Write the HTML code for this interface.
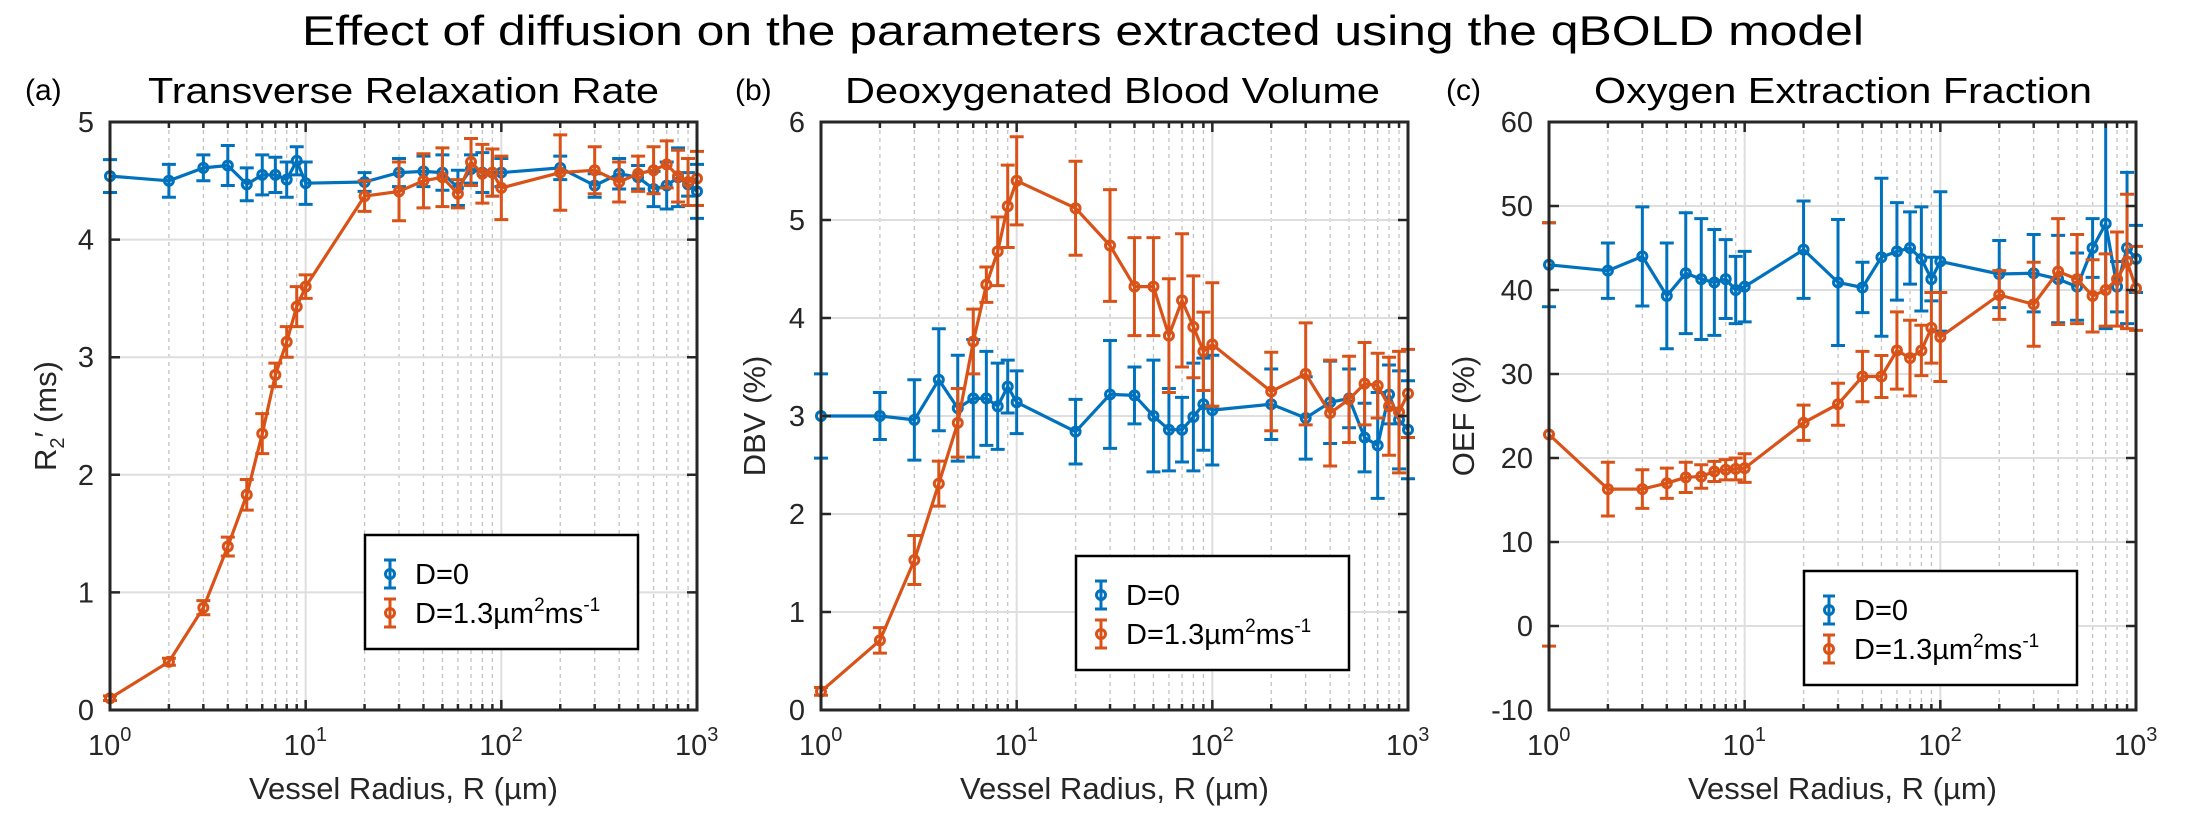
<!DOCTYPE html>
<html><head><meta charset="utf-8"><style>
html,body{margin:0;padding:0;background:#fff;}
svg{display:block;font-family:"Liberation Sans",Arial,sans-serif;}
</style></head><body>
<svg id="fig" width="2185" height="827" viewBox="0 0 2185 827" xmlns="http://www.w3.org/2000/svg">
<text x="1083" y="45" font-size="42" text-anchor="middle" textLength="1562" lengthAdjust="spacingAndGlyphs">Effect of diffusion on the parameters extracted using the qBOLD model</text>
</svg>
<script>
const radii = [1,2,3,4,5,6,7,8,9,10,20,30,40,50,60,70,80,90,100,200,300,400,500,600,700,800,900,1000];
// Panel (a) R2'
const r2Blue = [4.54,4.50,4.61,4.63,4.47,4.55,4.55,4.51,4.67,4.48,4.49,4.57,4.58,4.57,4.44,4.60,4.57,4.57,4.57,4.61,4.46,4.56,4.53,4.43,4.46,4.53,4.47,4.41];
const r2BlueErr = [0.14,0.14,0.11,0.17,0.14,0.17,0.15,0.15,0.12,0.18,0.08,0.12,0.13,0.15,0.15,0.12,0.17,0.2,0.12,0.1,0.1,0.13,0.1,0.15,0.2,0.25,0.1,0.23];
const r2Orange = [0.10,0.41,0.87,1.39,1.83,2.35,2.85,3.13,3.43,3.60,4.37,4.41,4.50,4.53,4.39,4.66,4.56,4.57,4.44,4.57,4.59,4.49,4.56,4.59,4.64,4.54,4.49,4.52];
const r2OrangeErr = [0.02,0.03,0.06,0.08,0.13,0.17,0.1,0.13,0.17,0.1,0.13,0.25,0.23,0.25,0.12,0.2,0.25,0.2,0.27,0.32,0.2,0.17,0.15,0.2,0.2,0.22,0.2,0.23];
// Panel (b) DBV
const dbvBlue = [3.0,3.0,2.96,3.37,3.08,3.18,3.18,3.1,3.3,3.14,2.84,3.22,3.21,3.0,2.86,2.86,2.99,3.12,3.06,3.12,2.98,3.14,3.18,2.78,2.7,3.22,2.96,2.86];
const dbvBlueErr = [0.43,0.24,0.41,0.52,0.54,0.6,0.48,0.44,0.27,0.32,0.33,0.55,0.29,0.57,0.42,0.33,0.55,0.47,0.56,0.36,0.42,0.42,0.3,0.35,0.54,0.3,0.5,0.5];
const dbvOrange = [0.19,0.71,1.53,2.31,2.93,3.76,4.34,4.68,5.14,5.40,5.12,4.74,4.32,4.32,3.82,4.18,3.91,3.66,3.73,3.25,3.43,3.03,3.17,3.33,3.31,3.10,3.04,3.23];
const dbvOrangeErr = [0.04,0.13,0.25,0.23,0.35,0.33,0.18,0.35,0.42,0.45,0.48,0.57,0.5,0.5,0.58,0.68,0.52,0.4,0.63,0.4,0.52,0.54,0.44,0.42,0.33,0.5,0.62,0.45];
// Panel (c) OEF
const oefBlue = [43.0,42.3,44.0,39.3,42.0,41.3,40.9,41.3,40.0,40.4,44.8,40.9,40.3,43.9,44.6,45.0,43.7,41.3,43.4,41.9,42.0,41.3,40.4,45.0,47.9,40.4,45.0,43.7];
const oefBlueErr = [5,3.3,5.9,6.3,7.2,7.2,6.3,4.7,4,4.2,5.8,7.5,3,9.4,5.8,4.3,6.2,2.6,8.3,4,4.6,5.2,4,3.5,12.5,3,9,4];
const oefOrange = [22.8,16.3,16.3,17.0,17.7,17.8,18.4,18.6,18.7,18.8,24.2,26.4,29.7,29.7,32.8,31.9,32.8,35.5,34.4,39.4,38.3,42.2,41.3,39.3,40.0,41.3,43.4,40.2];
const oefOrangeErr = [25.2,3.2,2.3,1.8,1.8,1.4,1.2,1.2,1.3,1.7,2.1,2.5,3.0,2.5,4.6,4.5,3.0,4.2,5.3,2.9,5.0,6.3,5.3,4.3,4.3,5.6,8.0,5];
const aTicks = [0,1,2,3,4,5];
const bTicks = [0,1,2,3,4,5,6];
const cTicks = [-10,0,10,20,30,40,50,60];
const xDecades = [0,1,2,3];

const NS = "http://www.w3.org/2000/svg";
const svg = document.getElementById('fig');
const BLUE = "#0072BD", ORANGE = "#D95319";
function el(tag, attrs, parent, text){
  const e = document.createElementNS(NS, tag);
  for (const k in attrs) e.setAttribute(k, attrs[k]);
  if (text !== undefined) e.textContent = text;
  (parent||svg).appendChild(e);
  return e;
}

function panel(cfg){
  const L = cfg.left, R = cfg.left + 587, T = 122, B = 710;
  const g = el('g', {});
  
  
  const xs = v => L + (Math.log10(v) / 3) * (R - L);
  const ys = v => B - (v - cfg.ymin) / (cfg.ymax - cfg.ymin) * (B - T);
  // minor grid
  for (let d = 0; d < 3; d++) for (let m = 2; m <= 9; m++) {
    const x = xs(m * Math.pow(10, d));
    const ln = el('line', {x1:x, x2:x, y1:T, y2:B, stroke:'#c4c4c4', 'stroke-width':1.3, 'stroke-dasharray':'4,4'}, g);
    
    
  }
  // major grid
  cfg.ticks.forEach(t => {
    const y = ys(t);
    const ln = el('line', {x1:L, x2:R, y1:y, y2:y, stroke:'#dedede', 'stroke-width':2}, g);
    
    
  });
  xDecades.forEach(d => {
    const x = xs(Math.pow(10, d));
    const ln = el('line', {x1:x, x2:x, y1:T, y2:B, stroke:'#dedede', 'stroke-width':2}, g);
    
    
  });
  // series
  function series(vals, errs, color, name){
    const sg = el('g', {}, g);
    
    
    const pts = radii.map((r,i) => xs(r).toFixed(1) + ',' + ys(vals[i]).toFixed(1)).join(' ');
    const pl = el('polyline', {points:pts, fill:'none', stroke:color, 'stroke-width':3.2, 'stroke-linejoin':'round'}, sg);
    
    
    radii.forEach((r,i) => {
      const x = xs(r), y1 = Math.max(T, ys(vals[i] + errs[i])), y2 = Math.min(B, ys(vals[i] - errs[i]));
      const eb = el('path', {d:`M${x},${y1}V${y2}M${x-7},${y1}H${x+7}M${x-7},${y2}H${x+7}`, stroke:color, 'stroke-width':3, fill:'none'}, sg);
      
      
      const c = el('circle', {cx:x, cy:ys(vals[i]), r:4.5, fill:'none', stroke:color, 'stroke-width':3}, sg);
      
      
    });
  }
  series(cfg.blue, cfg.blueErr, BLUE, 'd0');
  series(cfg.orange, cfg.orangeErr, ORANGE, 'd13');
  // axes box & ticks
  const box = el('rect', {x:L, y:T, width:R-L, height:B-T, fill:'none', stroke:'#262626', 'stroke-width':3}, g);
  
  
  let tp = '';
  cfg.ticks.forEach(t => { const y = ys(t); tp += `M${L},${y}h10M${R},${y}h-10`; });
  xDecades.forEach(d => { const x = xs(Math.pow(10,d)); tp += `M${x},${B}v-10M${x},${T}v10`; });
  for (let d = 0; d < 3; d++) for (let m = 2; m <= 9; m++) { const x = xs(m*Math.pow(10,d)); tp += `M${x},${B}v-6M${x},${T}v6`; }
  const tk = el('path', {d:tp, stroke:'#262626', 'stroke-width':2.5, fill:'none'}, g);
  
  
  // tick labels
  cfg.ticks.forEach(t => {
    const tl = el('text', {x:L-16, y:ys(t)+10, 'font-size':29, 'text-anchor':'end', fill:'#262626'}, g, String(t));
    
    
  });
  xDecades.forEach(d => {
    const x = xs(Math.pow(10,d));
    const tl = el('text', {x:x-22, y:755, 'font-size':29, fill:'#262626'}, g);
    
    
    el('tspan', {}, tl, '10');
    el('tspan', {'font-size':20, dy:-14}, tl, String(d));
  });
  // axis titles
  const xt = el('text', {x:(L+R)/2, y:799, 'font-size':31, 'text-anchor':'middle', fill:'#262626'}, g, 'Vessel Radius, R (µm)');
  
  
  const yt = el('text', {x:0, y:0, 'font-size':31, 'text-anchor':'middle', fill:'#262626', transform:`translate(${cfg.ytx},416) rotate(-90)`}, g);
  
  
  if (cfg.id === 'a') {
    el('tspan', {}, yt, 'R');
    el('tspan', {'font-size':20, dy:8}, yt, '2');
    el('tspan', {dy:-8}, yt, '\u2032 (ms)');
  } else yt.textContent = cfg.ytitle;
  // panel title & letter
  const pt = el('text', {x:cfg.tx1, y:103, 'font-size':36, textLength:cfg.tx2-cfg.tx1, lengthAdjust:'spacingAndGlyphs', fill:'#000'}, g, cfg.title);
  
  
  const pl = el('text', {x:cfg.lx, y:100, 'font-size':30, fill:'#000'}, g, cfg.letter);
  
  
  // legend
  const lg = el('g', {}, g);
  
  
  el('rect', {x:cfg.lgx, y:cfg.lgy, width:273, height:114, fill:'#fff', stroke:'#000', 'stroke-width':2.5}, lg);
  [[BLUE,'D=0',cfg.lgy+39],[ORANGE,null,cfg.lgy+78]].forEach(([c,txt,y]) => {
    const mx = cfg.lgx + 25;
    const ent = el('g', {}, lg);
    
    
    el('path', {d:`M${mx},${y-14}V${y+14}M${mx-6},${y-14}h12M${mx-6},${y+14}h12`, stroke:c, 'stroke-width':3, fill:'none'}, ent);
    el('circle', {cx:mx, cy:y, r:4.5, fill:'none', stroke:c, 'stroke-width':3}, ent);
    const t = el('text', {x:cfg.lgx+50, y:y+10, 'font-size':29, fill:'#000'}, ent);
    if (txt) t.textContent = txt;
    else {
      el('tspan', {}, t, 'D=1.3µm');
      el('tspan', {'font-size':19, dy:-12}, t, '2');
      el('tspan', {dy:12}, t, 'ms');
      el('tspan', {'font-size':19, dy:-12}, t, '-1');
    }
  });
}

panel({id:'a', left:110, ymin:0, ymax:5, ticks:aTicks, blue:r2Blue, blueErr:r2BlueErr, orange:r2Orange, orangeErr:r2OrangeErr,
  ytx:56, title:'Transverse Relaxation Rate', tx1:148, tx2:659, letter:'(a)', lx:25, lgx:365, lgy:535});
panel({id:'b', left:821, ymin:0, ymax:6, ticks:bTicks, blue:dbvBlue, blueErr:dbvBlueErr, orange:dbvOrange, orangeErr:dbvOrangeErr,
  ytx:765, ytitle:'DBV (%)', title:'Deoxygenated Blood Volume', tx1:845, tx2:1380, letter:'(b)', lx:735, lgx:1076, lgy:556});
panel({id:'c', left:1549, ymin:-10, ymax:60, ticks:cTicks, blue:oefBlue, blueErr:oefBlueErr, orange:oefOrange, orangeErr:oefOrangeErr,
  ytx:1474, ytitle:'OEF (%)', title:'Oxygen Extraction Fraction', tx1:1594, tx2:2092, letter:'(c)', lx:1446, lgx:1804, lgy:571});
</script>
</body></html>
